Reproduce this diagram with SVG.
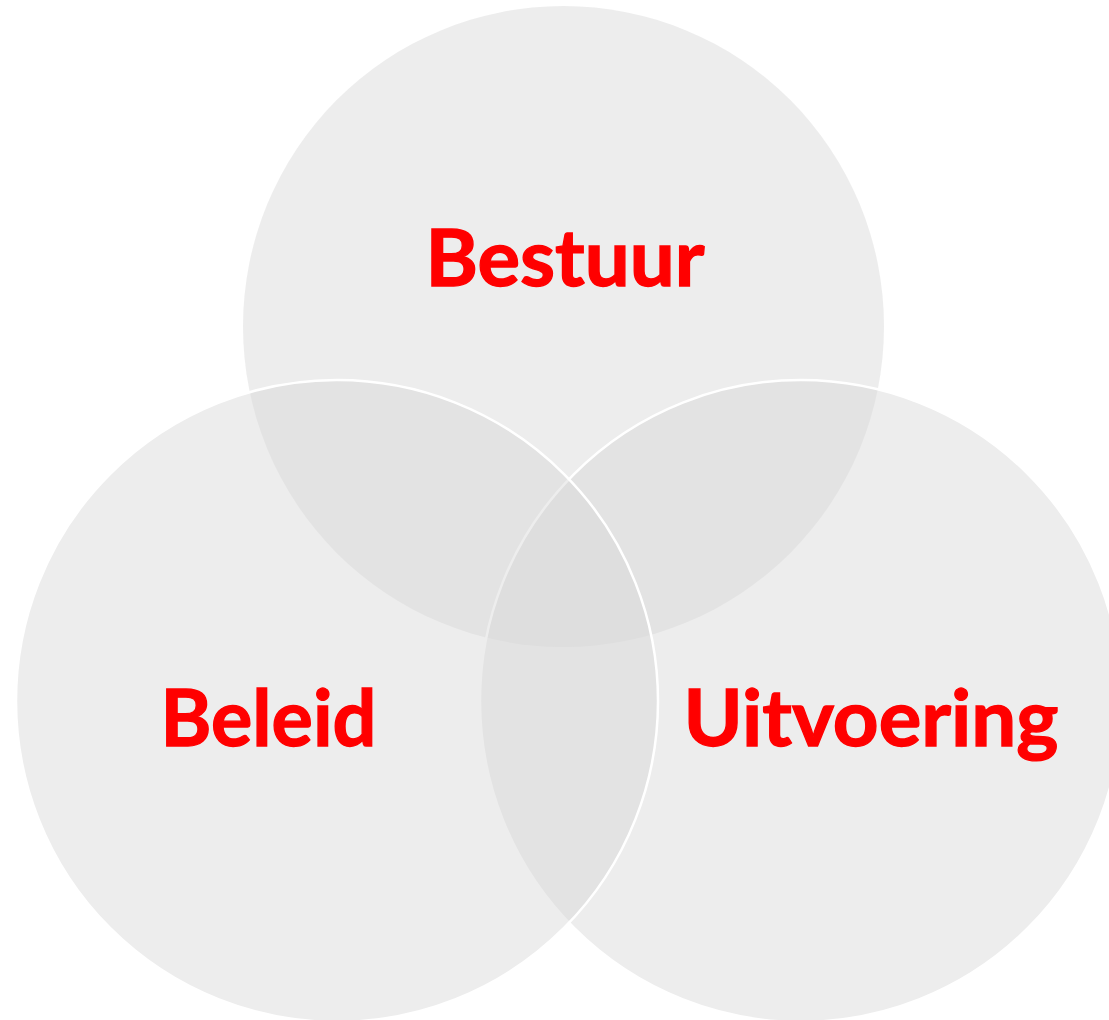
<svg xmlns="http://www.w3.org/2000/svg" width="1109" height="1020" viewBox="0 0 1109 1020">
  <style>
    .c { fill: #d6d6d6; fill-opacity: 0.45; }
    .s { stroke: #ffffff; stroke-width: 2.5; }
    .t { font-family: "Lato", "Open Sans", "Liberation Sans", sans-serif; font-weight: bold; font-size: 78px; fill: #ff0000; stroke: #ff0000; stroke-width: 1.3; text-anchor: middle; }
  </style>
  <rect width="1109" height="1020" fill="#ffffff"/>
  <g id="connectors"></g>
  <g id="bestuur">
    <circle class="c" cx="563.5" cy="326.5" r="320.5"/>
    <text class="t" x="565" y="286" textLength="279" lengthAdjust="spacingAndGlyphs">Bestuur</text>
  </g>
  <g id="uitvoering">
    <circle class="c s" cx="801" cy="701" r="321"/>
    <text class="t" x="871" y="746" textLength="375" lengthAdjust="spacingAndGlyphs">Uitvoering</text>
  </g>
  <g id="beleid">
    <circle class="c s" cx="337" cy="701" r="321"/>
    <text class="t" x="268.5" y="746" textLength="216" lengthAdjust="spacingAndGlyphs">Beleid</text>
  </g>
</svg>
